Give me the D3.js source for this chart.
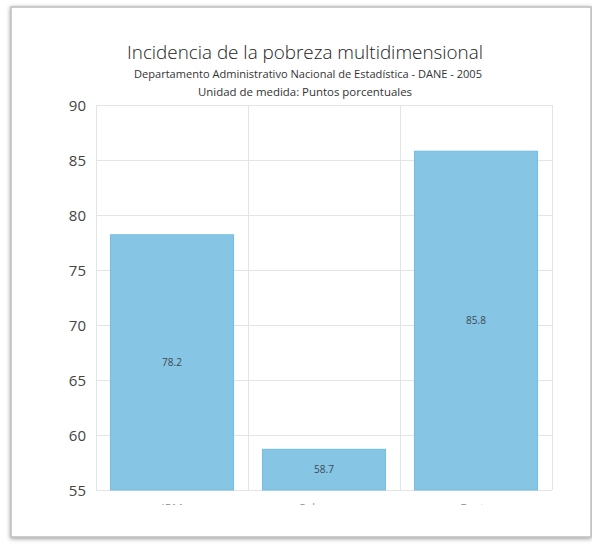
<!DOCTYPE html>
<html><head><meta charset="utf-8">
<script src="https://cdn.jsdelivr.net/npm/d3@7/dist/d3.min.js"></script>
<style>html,body{margin:0;padding:0;background:#fff;}svg{display:block;}</style>
</head><body>
<script>
const categories = ["IPM", "Cabecera", "Resto"];
const values = [78.2, 58.7, 85.8];
const yTicks = [55, 60, 65, 70, 75, 80, 85, 90];
const title = "Incidencia de la pobreza multidimensional";
const subtitle1 = "Departamento Administrativo Nacional de Estadística - DANE - 2005";
const subtitle2 = "Unidad de medida: Puntos porcentuales";

(function () {
const W = 592, H = 544;
const svg = d3.select("body").append("svg").attr("width", W).attr("height", H);
const defs = svg.append("defs");
const f = defs.append("filter").attr("id", "sh").attr("x", "-5%").attr("y", "-5%").attr("width", "110%").attr("height", "110%");
f.append("feDropShadow").attr("dx", 0).attr("dy", 1).attr("stdDeviation", 2.2).attr("flood-color", "#000").attr("flood-opacity", 0.4);

// card
svg.append("rect").attr("x", 11).attr("y", 7).attr("width", 580).attr("height", 530)
  .attr("fill", "#fff").attr("stroke", "#bdbdbd").attr("stroke-width", 1.5).attr("filter", "url(#sh)");

const font = "'Open Sans', 'Noto Sans', sans-serif";
function fitText(sel, w) {
  sel.attr("textLength", w).attr("lengthAdjust", "spacingAndGlyphs");
}
svg.append("text").attr("x", 305).attr("y", 59).attr("text-anchor", "middle")
  .attr("font-family", font).attr("font-size", 19).attr("font-weight", 300).attr("fill", "#222")
  .text(title).call(fitText, 356);
svg.append("text").attr("x", 308).attr("y", 78).attr("text-anchor", "middle")
  .attr("font-family", font).attr("font-size", 11).attr("fill", "#333")
  .text(subtitle1).call(fitText, 348);
svg.append("text").attr("x", 305).attr("y", 96).attr("text-anchor", "middle")
  .attr("font-family", font).attr("font-size", 11).attr("fill", "#333")
  .text(subtitle2).call(fitText, 214);

const pLeft = 96, pRight = 552, pTop = 105, pBottom = 490;
const x = d3.scaleBand().domain(categories).range([pLeft, pRight]).paddingInner(0).paddingOuter(0);
const y = d3.scaleLinear().domain([55, 90]).range([pBottom, pTop]);

const g = svg.append("g");
g.selectAll("line.h").data(yTicks).join("line")
  .attr("x1", pLeft).attr("x2", pRight).attr("y1", d => y(d) + 0.5).attr("y2", d => y(d) + 0.5)
  .attr("stroke", "#e4e4e4").attr("stroke-width", 1);
const vx = categories.map(c => x(c)).concat([pRight]);
g.selectAll("line.v").data(vx).join("line")
  .attr("x1", d => Math.round(d) + 0.5).attr("x2", d => Math.round(d) + 0.5).attr("y1", pTop).attr("y2", pBottom)
  .attr("stroke", "#e4e4e4").attr("stroke-width", 1);

const yAxis = d3.axisLeft(y).tickValues(yTicks).tickSize(0).tickPadding(10);
const ya = svg.append("g").attr("transform", `translate(${pLeft},0)`).call(yAxis);
ya.select(".domain").remove();
ya.selectAll("text").attr("font-family", font).attr("font-size", 15).attr("fill", "#444").attr("dy", "0.35em");

const bw = x.bandwidth() * 0.81;
g.selectAll("rect.bar").data(values).join("rect")
  .attr("x", (d, i) => x(categories[i]) + (x.bandwidth() - bw) / 2)
  .attr("y", d => y(d))
  .attr("width", bw).attr("height", d => pBottom - y(d))
  .attr("fill", "#86c5e3").attr("stroke", "#73bde2").attr("stroke-width", 1);

g.selectAll("text.lbl").data(values).join("text")
  .attr("x", (d, i) => x(categories[i]) + x.bandwidth() / 2)
  .attr("y", d => (y(d) + pBottom) / 2)
  .attr("dy", "0.35em").attr("text-anchor", "middle")
  .attr("font-family", font).attr("font-size", 10).attr("fill", "#3d4a55")
  .text(d => d.toFixed(1));

defs.append("clipPath").attr("id", "xc").append("rect").attr("x", 0).attr("y", 495).attr("width", W).attr("height", 10);
const xa = svg.append("g").attr("clip-path", "url(#xc)").append("g")
  .attr("transform", `translate(0,${pBottom})`).call(d3.axisBottom(x).tickSize(0).tickPadding(14));
xa.select(".domain").remove();
xa.selectAll("text").attr("font-family", font).attr("font-size", 12).attr("fill", "#999");
})();
</script>
</body></html>
